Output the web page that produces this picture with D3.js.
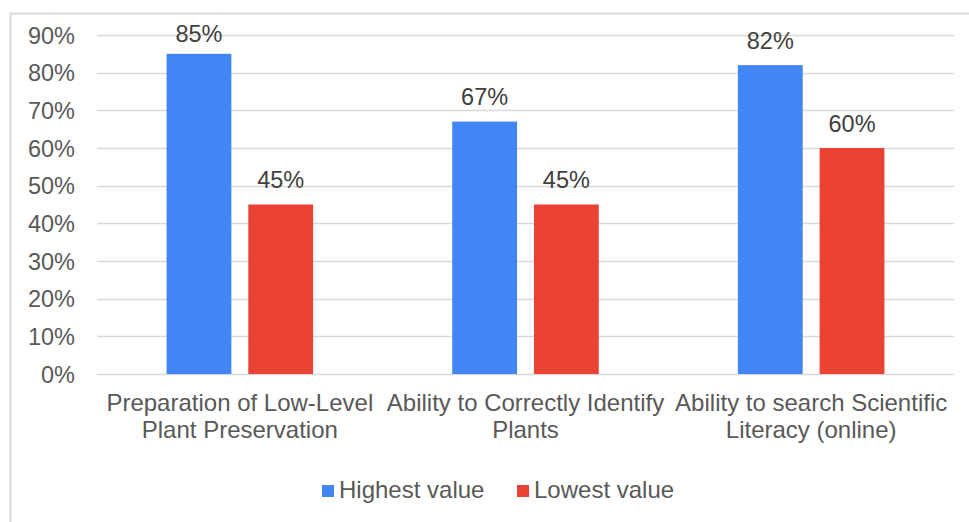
<!DOCTYPE html>
<html><head><meta charset="utf-8">
<script src="https://cdn.jsdelivr.net/npm/d3@7"></script>
<style>body{margin:0;background:#fff}svg{display:block}text{font-family:"Liberation Sans",Arial,sans-serif}</style>
</head><body>
<svg id="c" width="969" height="522"></svg>
<script>
const categories = [["Preparation of Low-Level","Plant Preservation"],["Ability to Correctly Identify","Plants"],["Ability to search Scientific","Literacy (online)"]];
const seriesNames = ["Highest value","Lowest value"];
const highest = [85, 67, 82];
const lowest = [45, 45, 60];
const yTicks = [0,10,20,30,40,50,60,70,80,90];
const colors = ["#4285F4","#EA4335"];

(function(){
const svg = d3.select("#c");
const W=969,H=522, FS=23.5, FS2=24;
svg.append("rect").attr("x",10.5).attr("y",13.5).attr("width",W).attr("height",H).attr("fill","#fff").attr("stroke","#d9d9d9").attr("stroke-width",2);

const pl=97,pr=954,pt=35,pb=374;
const y=d3.scaleLinear().domain([0,90]).range([pb,pt]);
const x0=d3.scaleBand().domain(d3.range(categories.length)).range([pl,pr]);
const x1=d3.scaleBand().domain([0,1]).range([x0.bandwidth()*0.2435, x0.bandwidth()*0.7565]).paddingInner(0.207);

const g=svg.append("g");
g.selectAll("line.grid").data(yTicks).join("line")
 .attr("x1",pl).attr("x2",pr).attr("y1",d=>Math.round(y(d))+0.5).attr("y2",d=>Math.round(y(d))+0.5)
 .attr("stroke","#d9d9d9").attr("stroke-width",1.5);

const yAxis=d3.axisLeft(y).tickValues(yTicks).tickFormat(d=>d+"%").tickSize(0).tickPadding(0);
const ya=svg.append("g").attr("transform","translate(75,0)").call(yAxis);
ya.select(".domain").remove();
ya.selectAll("text").attr("font-size",FS).attr("fill","#595959").attr("font-family","Liberation Sans, Arial, sans-serif").attr("dy","0.35em");

const data=[highest,lowest];
data.forEach((vals,si)=>{
  g.selectAll("rect.s"+si).data(vals).join("rect").attr("class","s"+si)
   .attr("x",(d,i)=>x0(i)+x1(si)).attr("width",x1.bandwidth())
   .attr("y",d=>y(d)).attr("height",d=>pb-y(d)).attr("fill",colors[si]);
  g.selectAll("text.s"+si).data(vals).join("text").attr("class","s"+si)
   .attr("x",(d,i)=>x0(i)+x1(si)+x1.bandwidth()/2).attr("y",d=>Math.max(y(d)-16.5, 42))
   .attr("text-anchor","middle").attr("font-size",FS).attr("fill","#404040").text(d=>d+"%");
});

categories.forEach((lines,i)=>{
  const t=svg.append("text").attr("x",x0(i)+x0.bandwidth()/2).attr("y",411)
   .attr("text-anchor","middle").attr("font-size",FS2).attr("fill","#595959");
  lines.forEach((l,j)=>t.append("tspan").attr("x",x0(i)+x0.bandwidth()/2).attr("dy",j?26.5:0).text(l));
});

const lx=[322,517];
seriesNames.forEach((n,i)=>{
  svg.append("rect").attr("x",lx[i]).attr("y",485).attr("width",12).attr("height",12).attr("fill",colors[i]);
  svg.append("text").attr("x",lx[i]+17).attr("y",498).attr("font-size",FS2).attr("fill","#595959").text(n);
});
})();
</script>
</body></html>
